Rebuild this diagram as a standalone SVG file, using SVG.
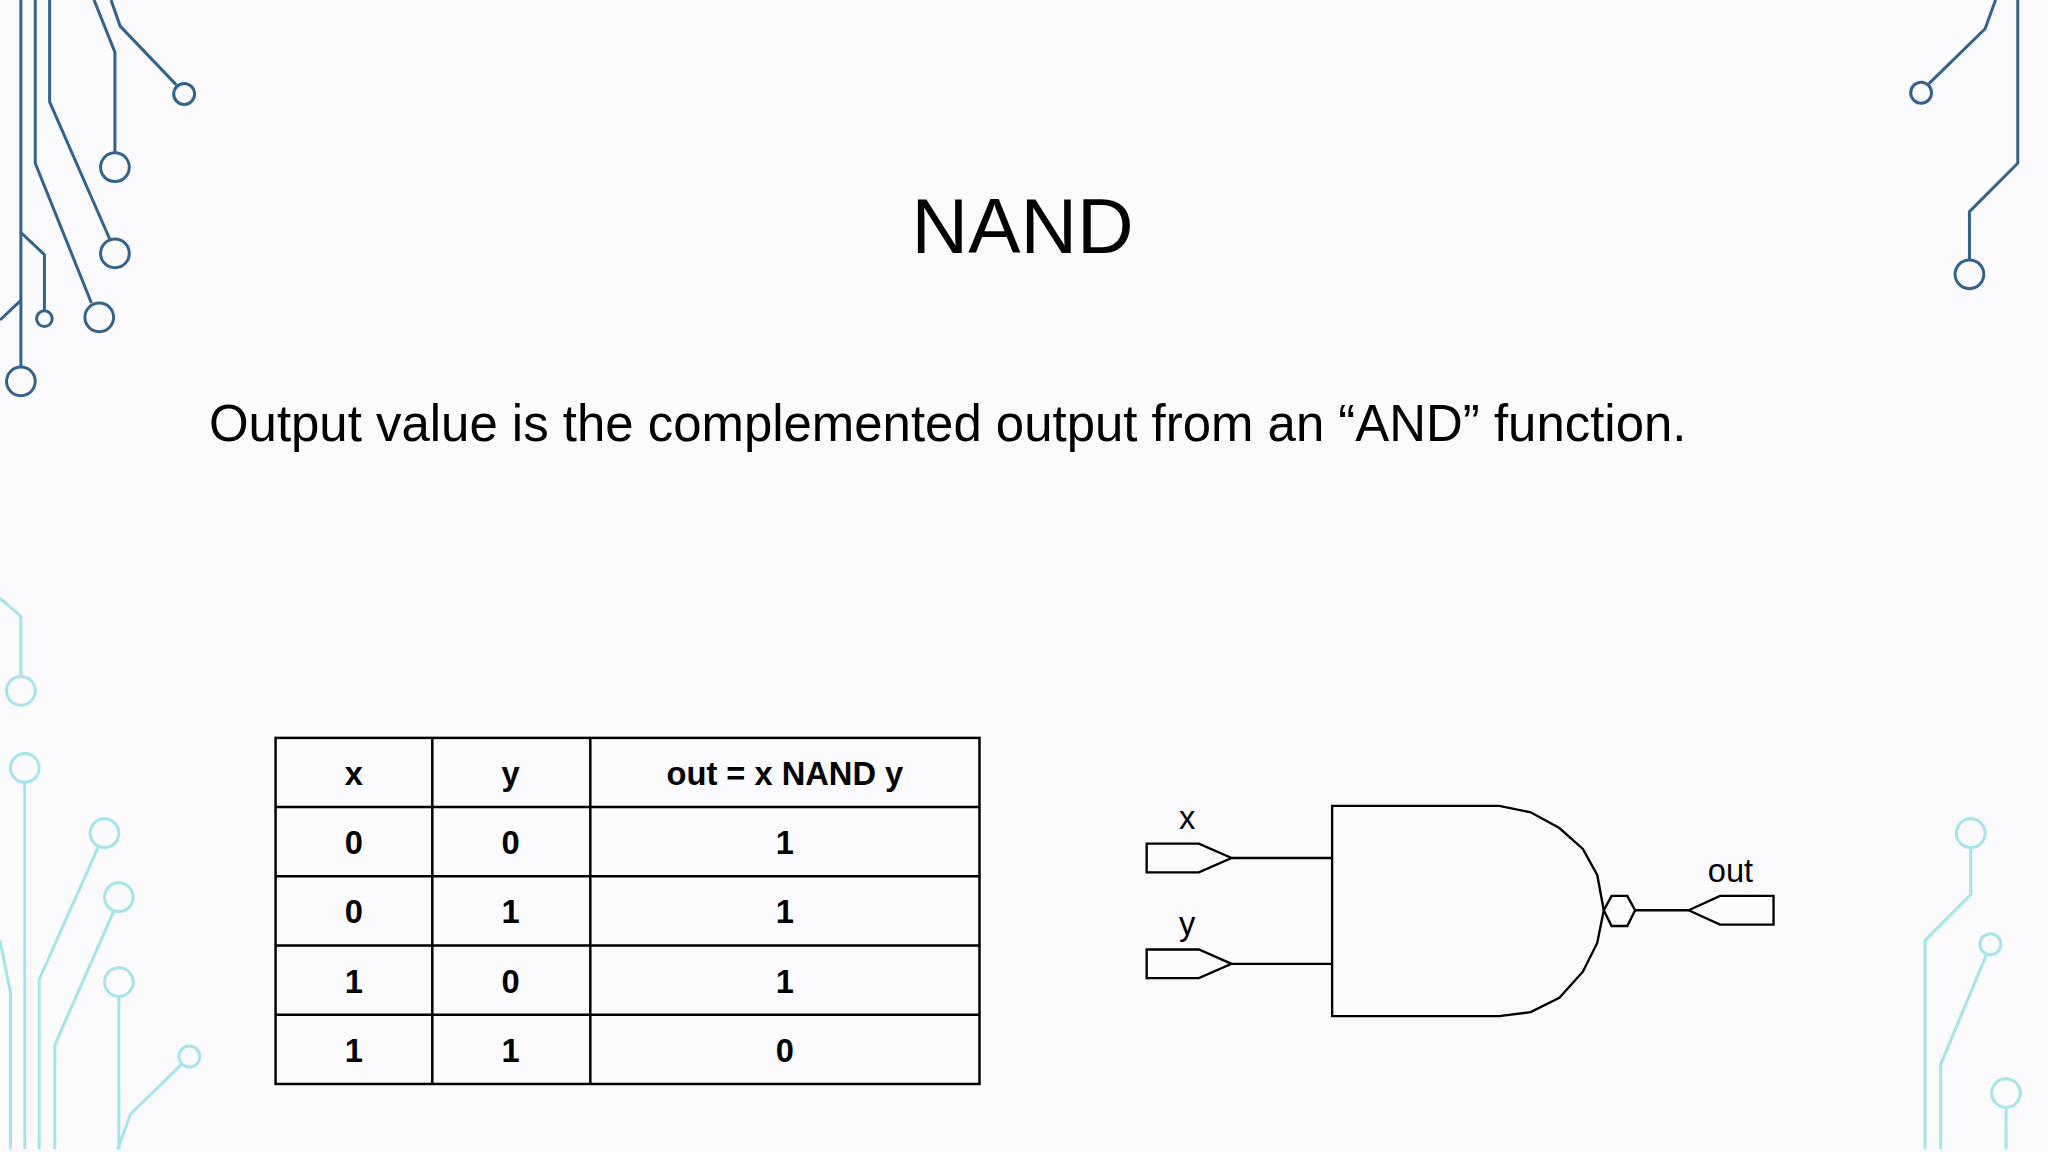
<svg xmlns="http://www.w3.org/2000/svg" width="2048" height="1152" viewBox="0 0 2048 1152">
<style>
.dk{fill:none;stroke:#34628a;stroke-width:2.3}
.lt{fill:none;stroke:#a6e3ea;stroke-width:2.3}
.ln{fill:none;stroke:#000;stroke-width:1.8}
.tb{fill:none;stroke:#000;stroke-width:1.9}
.tt{font-family:"Liberation Sans",Arial,sans-serif;font-weight:bold;font-size:25px;text-anchor:middle}
.lb{font-family:"Liberation Sans",Arial,sans-serif;font-size:25px;text-anchor:middle}
</style>
<rect width="2048" height="1152" fill="#fbfafd"/>
<g transform="scale(1.306)">
<g id="decor">
<g class="dk">
<path d="M16 0V281"/><circle cx="16" cy="292" r="11"/>
<path d="M27 0V125L70 232"/><circle cx="76" cy="243" r="11"/>
<path d="M38 0V78L84 183"/><circle cx="88" cy="194" r="11"/>
<path d="M72 0L88 40V117"/><circle cx="88" cy="128" r="11"/>
<path d="M85 0L92 20L135 65"/><circle cx="141" cy="72" r="8"/>
<path d="M16 178L34 195V238"/><circle cx="34" cy="244" r="6"/>
<path d="M0 245L16 230"/>
<path d="M1528 0L1520 22L1477 64"/><circle cx="1471" cy="71" r="8"/>
<path d="M1545 0V125L1508 162V199"/><circle cx="1508" cy="210" r="11"/>
</g>
<g class="lt">
<path d="M0 458L16 472V518"/><circle cx="16" cy="529" r="11"/>
<circle cx="19" cy="588" r="11"/><path d="M19 599V880"/>
<circle cx="80" cy="638" r="11"/><path d="M75 649L30 750V880"/>
<circle cx="91" cy="687" r="11"/><path d="M87 698L42 800V880"/>
<circle cx="91" cy="752" r="11"/><path d="M91 763V880"/>
<circle cx="145" cy="809" r="8"/><path d="M139 815L100 853L90 880"/>
<path d="M0 720L8 760V880"/>
<circle cx="1509" cy="638" r="11"/><path d="M1509 649V685L1474 720V880"/>
<circle cx="1524" cy="723" r="8"/><path d="M1521 731L1486 815V880"/>
<circle cx="1536" cy="837" r="11"/><path d="M1536 848V880"/>
</g>
</g>
<g id="title"><text x="783" y="194" font-family="'Liberation Sans',Arial,sans-serif" font-size="60" text-anchor="middle">NAND</text></g>
<g id="subtitle"><text x="160" y="338" font-family="'Liberation Sans',Arial,sans-serif" font-size="39">Output value is the complemented output from an “AND” function.</text></g>
<g id="table">
<rect class="tb" x="211" y="565" width="539" height="265"/>
<path class="tb" d="M331 565V830M452 565V830M211 618H750M211 671H750M211 724H750M211 777H750"/>
<text class="tt" x="271" y="601">x</text><text class="tt" x="391" y="601">y</text><text class="tt" x="601" y="601">out = x NAND y</text>
<text class="tt" x="271" y="654">0</text><text class="tt" x="391" y="654">0</text><text class="tt" x="601" y="654">1</text>
<text class="tt" x="271" y="707">0</text><text class="tt" x="391" y="707">1</text><text class="tt" x="601" y="707">1</text>
<text class="tt" x="271" y="760">1</text><text class="tt" x="391" y="760">0</text><text class="tt" x="601" y="760">1</text>
<text class="tt" x="271" y="813">1</text><text class="tt" x="391" y="813">1</text><text class="tt" x="601" y="813">0</text>
</g>
<g id="gate">
<path class="ln" d="M1020 617H1148L1172 622L1194 634L1212 650L1223 670L1228 697L1223 722L1212 744L1194 764L1172 775L1148 778H1020Z"/>
<path class="ln" d="M1228 697L1234 686H1246L1252 697L1246 709H1234Z"/>
</g>
<g id="pin-x"><path class="ln" d="M878 646H918L943 657L918 668H878Z"/><text class="lb" x="909" y="635">x</text></g>
<g id="pin-y"><path class="ln" d="M878 727H918L943 738L918 749H878Z"/><text class="lb" x="909" y="716">y</text></g>
<g id="pin-out"><path class="ln" d="M1293 697L1317 686H1358V708H1317Z"/><text class="lb" x="1325" y="675">out</text></g>
<g id="connectors">
<path class="ln" d="M943 657H1020M943 738H1020M1252 697H1293"/>
</g>
</g>
</svg>
